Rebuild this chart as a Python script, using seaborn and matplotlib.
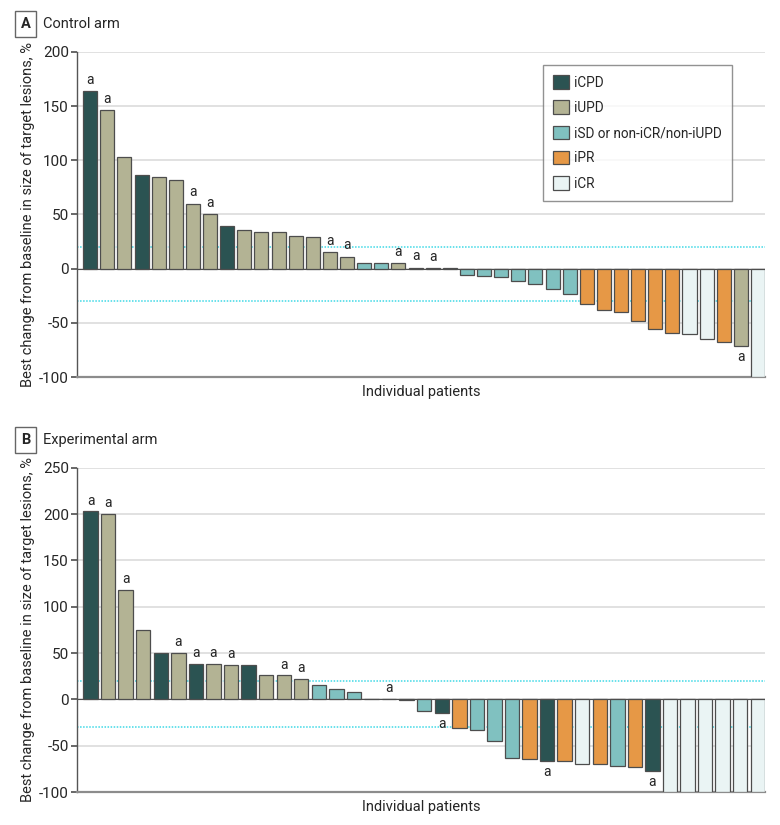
import numpy as np
import pandas as pd
import matplotlib
matplotlib.use("Agg")
import matplotlib.pyplot as plt
from matplotlib.patches import Patch
import seaborn as sns

# response categories and colours
categories = ["iCPD", "iUPD", "iSD or non-iCR/non-iUPD", "iPR", "iCR"]
colors = ["#2b5352", "#b3b394", "#80c1c0", "#e69846", "#eaf4f4"]

# Panel A - control arm (best change, %), category code, footnote a flag
control_values = [164, 146, 103, 86, 85, 82, 60, 50, 39, 36, 34, 34, 30, 29, 15, 11,
                  5, 5, 5, 1, 0.3, 0.2, -6, -7, -8, -11, -14, -18.5, -23, -33, -38,
                  -40, -48, -55.5, -59, -60, -65, -67.5, -71, -100]
control_cats = ["iCPD", "iUPD", "iUPD", "iCPD", "iUPD", "iUPD", "iUPD", "iUPD", "iCPD",
                "iUPD", "iUPD", "iUPD", "iUPD", "iUPD", "iUPD", "iUPD",
                "iSD or non-iCR/non-iUPD", "iSD or non-iCR/non-iUPD", "iUPD", "iUPD",
                "iUPD", "iSD or non-iCR/non-iUPD",
                "iSD or non-iCR/non-iUPD", "iSD or non-iCR/non-iUPD", "iSD or non-iCR/non-iUPD",
                "iSD or non-iCR/non-iUPD", "iSD or non-iCR/non-iUPD", "iSD or non-iCR/non-iUPD",
                "iSD or non-iCR/non-iUPD", "iPR", "iPR", "iPR", "iPR", "iPR", "iPR",
                "iCR", "iCR", "iPR", "iUPD", "iCR"]
control_flags = [1, 1, 0, 0, 0, 0, 1, 1, 0, 0, 0, 0, 0, 0, 1, 1, 0, 0, 1, 1, 1, 0,
                 0, 0, 0, 0, 0, 0, 0, 0, 0, 0, 0, 0, 0, 0, 0, 0, 1, 0]

# Panel B - experimental arm
exp_values = [203, 200, 118, 75, 50, 50, 38, 38, 37, 37, 26, 26, 22, 15, 11, 8,
              0.6, 0.4, -1, -13, -14.5, -31, -33, -45, -63, -64, -67, -67, -70, -70,
              -72, -73, -77.5, -100, -100, -100, -100, -100, -100]
exp_cats = ["iCPD", "iUPD", "iUPD", "iUPD", "iCPD", "iUPD", "iCPD", "iUPD", "iUPD", "iCPD",
            "iUPD", "iUPD", "iUPD", "iSD or non-iCR/non-iUPD", "iSD or non-iCR/non-iUPD",
            "iSD or non-iCR/non-iUPD", "iCPD", "iUPD", "iSD or non-iCR/non-iUPD",
            "iSD or non-iCR/non-iUPD", "iCPD", "iPR", "iSD or non-iCR/non-iUPD",
            "iSD or non-iCR/non-iUPD", "iSD or non-iCR/non-iUPD", "iPR", "iCPD", "iPR",
            "iCR", "iPR", "iSD or non-iCR/non-iUPD", "iPR", "iCPD",
            "iCR", "iCR", "iCR", "iCR", "iCR", "iCR"]
exp_flags = [1, 1, 1, 0, 0, 1, 1, 1, 1, 0, 0, 1, 1, 0, 0, 0, 0, 1, 0, 0, 1, 0, 0, 0,
             0, 0, 1, 0, 0, 0, 0, 0, 1, 0, 0, 0, 0, 0, 0]

control_ticks = [-100, -50, 0, 50, 100, 150, 200]
exp_ticks = [-100, -50, 0, 50, 100, 150, 200, 250]

sns.set_theme(style="white")
plt.rcParams["font.family"] = ["Roboto", "DejaVu Sans"]

palette = dict(zip(categories, colors))
ylabel = "Best change from baseline in size of target lesions, %"


def draw_panel(ax, values, cats, flags, ticks, letter, title, fig_y):
    df = pd.DataFrame({"patient": [str(i) for i in range(len(values))],
                       "change": values, "response": cats})
    sns.barplot(data=df, x="patient", y="change", hue="response", palette=palette,
                hue_order=categories, dodge=False, width=0.82, legend=False,
                edgecolor="#4d4d4d", linewidth=0.9, saturation=1, ax=ax, zorder=3)

    ax.set_ylim(ticks[0], ticks[-1])
    ax.set_xlim(-0.76, len(values) - 1 + 0.42)
    ax.set_yticks(ticks)
    ax.set_yticklabels([str(t) for t in ticks], fontsize=11)
    ax.set_xticks([])
    ax.set_xlabel("Individual patients", fontsize=10.5, labelpad=6)
    ax.set_ylabel(ylabel, fontsize=10.5, labelpad=3)

    for t in ticks[1:]:
        ax.axhline(t, color="#dcdcdc", lw=1.2, zorder=0)
    ax.axhline(20, color="#3fd9e6", lw=1.1, ls=(0, (1, 1)), zorder=1)
    ax.axhline(-30, color="#3fd9e6", lw=1.1, ls=(0, (1, 1)), zorder=1)
    ax.axhline(0, color="#4d4d4d", lw=0.8, zorder=2)

    for s in ["top", "right"]:
        ax.spines[s].set_visible(False)
    ax.spines["left"].set_color("#555555")
    ax.spines["left"].set_linewidth(1.0)
    ax.spines["bottom"].set_color("#8c8c8c")
    ax.spines["bottom"].set_linewidth(1.6)
    ax.tick_params(axis="y", left=True, length=4, color="#555555", pad=2)

    for i, (v, f) in enumerate(zip(values, flags)):
        if f:
            if v >= 0:
                ax.text(i, v + 4, "a", ha="center", va="bottom", fontsize=10)
            else:
                ax.text(i, v - 4, "a", ha="center", va="top", fontsize=10)

    fig.text(0.0327, fig_y, letter, fontsize=10.5, fontweight="bold", ha="center",
             va="center",
             bbox=dict(boxstyle="square,pad=0.4", fc="white", ec="#666666", lw=1))
    fig.text(0.055, fig_y, title, fontsize=10.5, ha="left", va="center")


fig = plt.figure(figsize=(7.8, 8.25), dpi=100)
ax1 = fig.add_axes([0.099, 0.543, 0.882, 0.394])
ax2 = fig.add_axes([0.099, 0.040, 0.882, 0.393])

draw_panel(ax1, control_values, control_cats, control_flags, control_ticks,
           "A", "Control arm", 0.971)
draw_panel(ax2, exp_values, exp_cats, exp_flags, exp_ticks,
           "B", "Experimental arm", 0.467)

handles = [Patch(facecolor=c, edgecolor="#4d4d4d", lw=0.9) for c in colors]
leg = ax1.legend(handles, categories, loc="upper right", bbox_to_anchor=(0.952, 0.96),
                 borderaxespad=0, frameon=True, fontsize=9.8, handlelength=1.15,
                 handleheight=1.15, labelspacing=0.8, borderpad=0.75,
                 handletextpad=0.4, fancybox=False)
leg.get_frame().set_edgecolor("#777777")
leg.get_frame().set_linewidth(1.0)

fig.savefig("out.png", dpi=100)
